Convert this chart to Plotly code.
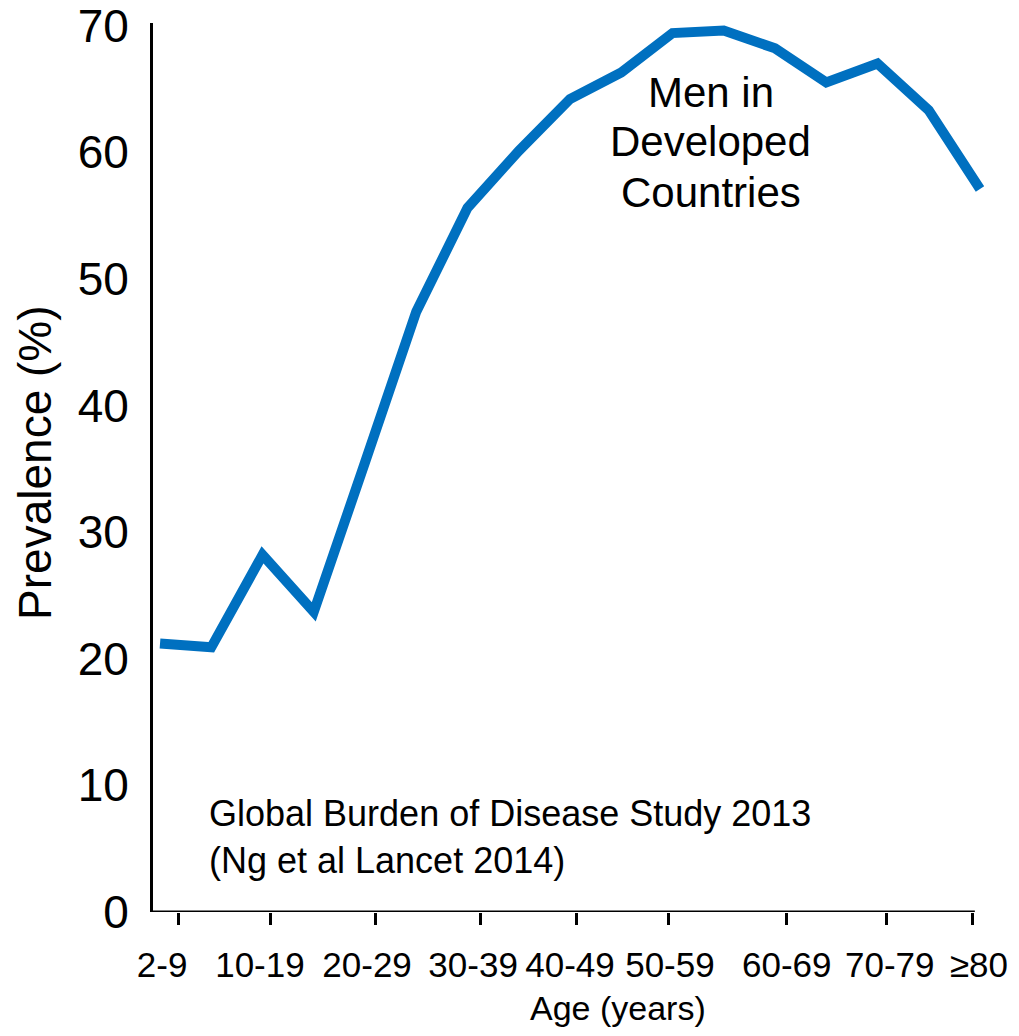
import plotly.graph_objects as go

# Data (5-year age groups, GBD 2013, men in developed countries)
age_groups = ["2-4", "5-9", "10-14", "15-19", "20-24", "25-29", "30-34", "35-39",
              "40-44", "45-49", "50-54", "55-59", "60-64", "65-69", "70-74", "75-79", "80+"]
prevalence = [21.2, 20.9, 28.2, 23.7, 35.5, 47.4, 55.6, 60.1,
              64.2, 66.3, 69.4, 69.6, 68.2, 65.5, 67.0, 63.3, 57.1]

tick_labels = ["2-9", "10-19", "20-29", "30-39", "40-49", "50-59", "60-69", "70-79", "≥80"]
y_ticks = [0, 10, 20, 30, 40, 50, 60, 70]

# layout positions (in age-group index units)
tick_mark_pos = [0.37, 2.146, 4.195, 6.244, 8.117, 9.93, 12.23, 14.185, 15.86]
tick_label_pos = [0.04, 1.95, 4.04, 6.11, 8.0, 9.95, 12.23, 14.24, 15.98]

x_idx = list(range(len(age_groups)))
XR = [-0.137, 16.098]
X_AXIS_END = 15.9

ARIAL = "Liberation Sans, Arial, sans-serif"

fig = go.Figure()
fig.add_trace(go.Scatter(
    x=x_idx, y=prevalence, mode="lines",
    line=dict(color="#0070C0", width=10),
    cliponaxis=False, showlegend=False, hoverinfo="skip",
    text=age_groups,
))
# invisible trace for label axis
fig.add_trace(go.Scatter(x=[XR[0]], y=[0], xaxis="x2", mode="markers",
                         marker=dict(opacity=0), showlegend=False, hoverinfo="skip"))

fig.update_layout(
    width=1011, height=1028,
    margin=dict(l=145, r=34, t=15, b=124, autoexpand=False),
    paper_bgcolor="white", plot_bgcolor="white",
    xaxis=dict(
        range=XR, showgrid=False, zeroline=False, automargin=False,
        showline=False,
        tickmode="array", tickvals=tick_mark_pos, ticktext=[""] * len(tick_mark_pos),
        ticks="outside", ticklen=12, tickwidth=3, tickcolor="black",
    ),
    xaxis2=dict(
        range=XR, overlaying="x", side="bottom", showgrid=False, zeroline=False,
        automargin=False, tickangle=0,
        showline=False, tickmode="array", tickvals=tick_label_pos, ticktext=tick_labels,
        ticks="outside", ticklen=12, tickcolor="rgba(0,0,0,0)",
        tickfont=dict(family=ARIAL, size=35, color="black"),
        ticklabelstandoff=10, ticklabeloverflow="allow",
    ),
    yaxis=dict(
        range=[0, 70.2], showgrid=False, zeroline=False, automargin=False,
        showline=True, linecolor="black", linewidth=3,
        tickmode="array", tickvals=y_ticks, ticks="",
        tickfont=dict(family=ARIAL, size=46, color="black"),
        ticklabelstandoff=12, ticklabeloverflow="allow",
    ),
    shapes=[dict(type="line", xref="x", yref="y", x0=XR[0], x1=X_AXIS_END, y0=0, y1=0,
                 line=dict(color="black", width=3), layer="above")],
)

ann = []
ann.append(dict(text="Prevalence (%)", textangle=-90, xref="paper", yref="paper",
                x=-0.142, y=0.505, xanchor="center", yanchor="middle", showarrow=False,
                font=dict(family=ARIAL, size=46, color="black")))
ann.append(dict(text="Age (years)", xref="x", yref="paper",
                x=8.93, y=-0.108, xanchor="center", yanchor="middle", showarrow=False,
                font=dict(family=ARIAL, size=34, color="black")))
for txt, yv in [("Men in", 64.75), ("Developed", 60.85), ("Countries", 56.85)]:
    ann.append(dict(text=txt, x=10.75, y=yv, xref="x", yref="y", showarrow=False,
                    xanchor="center", yanchor="middle",
                    font=dict(family=ARIAL, size=42, color="black")))
for txt, yv in [("Global Burden of Disease Study 2013", 7.75), ("(Ng et al Lancet 2014)", 4.1)]:
    ann.append(dict(text=txt, x=0.917, y=yv, xref="x", yref="y", showarrow=False,
                    xanchor="left", yanchor="middle",
                    font=dict(family=ARIAL, size=36, color="black")))
fig.update_layout(annotations=ann)

fig.write_html("out.html")
